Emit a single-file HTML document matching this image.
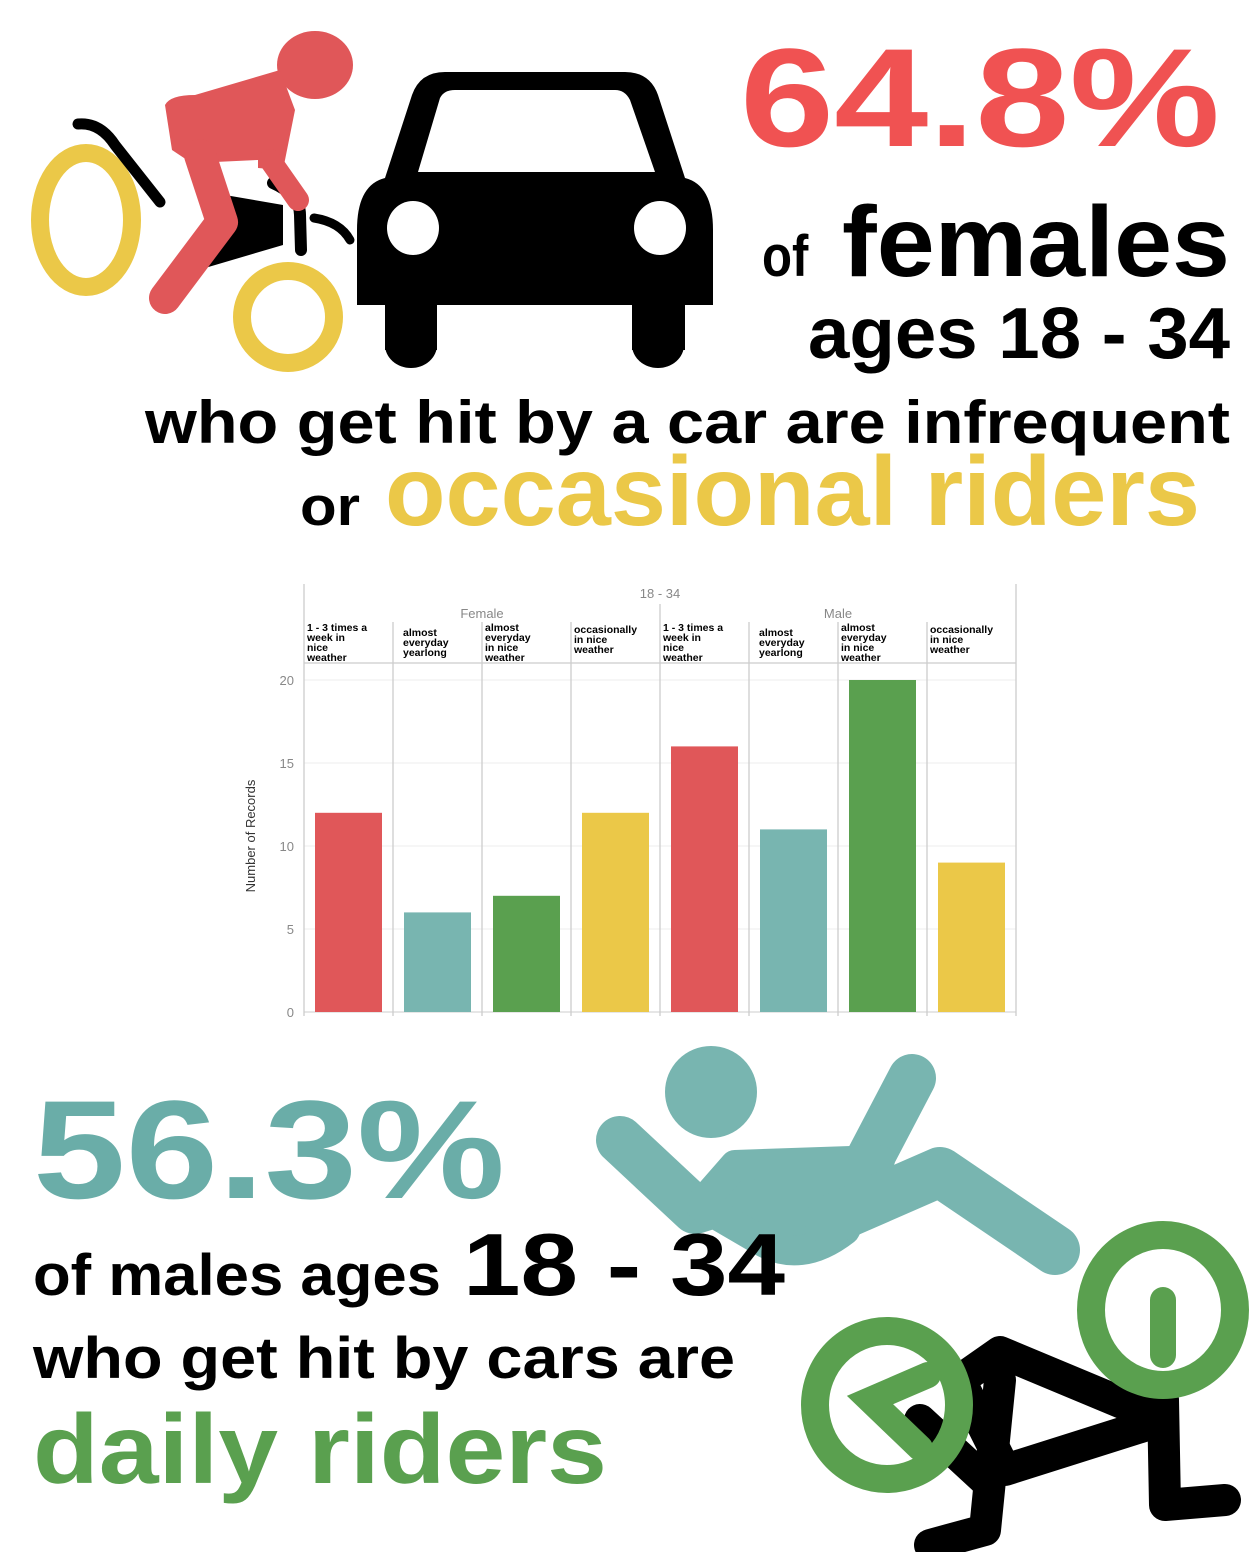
<!DOCTYPE html>
<html><head><meta charset="utf-8"><style>
html,body{margin:0;padding:0;background:#fff;}
body{width:1250px;height:1552px;position:relative;overflow:hidden;font-family:"Liberation Sans",sans-serif;}
svg{position:absolute;left:0;top:0;}
</style></head><body>
<svg width="1250" height="1552" viewBox="0 0 1250 1552">
<g fill="#000">
  <path d="M385,178 L412,95 Q420,72 445,72 L625,72 Q650,72 658,95 L685,178 Q713,185 713,230 L713,305 L357,305 L357,230 Q357,185 385,178Z"/>
  <rect x="385" y="290" width="52" height="60"/><ellipse cx="411" cy="345" rx="26" ry="23"/>
  <rect x="632" y="290" width="53" height="60"/><ellipse cx="658" cy="345" rx="26" ry="23"/>
  <path d="M418,172 L440,98 Q444,90 455,90 L615,90 Q625,90 630,100 L655,172Z" fill="#fff"/>
  <ellipse cx="413" cy="228" rx="26" ry="27" fill="#fff"/>
  <ellipse cx="660" cy="228" rx="26" ry="27" fill="#fff"/>
</g>
<g fill="none" stroke="#ebc848" stroke-width="18">
  <ellipse cx="86" cy="220" rx="46" ry="67"/>
  <ellipse cx="288" cy="317" rx="46" ry="46"/>
</g>
<g>
  <path d="M78,124 Q100,122 115,145 L160,202" stroke="#000" stroke-width="11" fill="none" stroke-linecap="round"/>
  <path d="M225,195 L283,205 L283,245 L205,268 Q192,272 188,268Z" fill="#000"/>
  <path d="M273,183 Q300,195 300,215 L301,250" stroke="#000" stroke-width="12" fill="none" stroke-linecap="round"/>
  <path d="M314,218 Q340,222 350,240" stroke="#000" stroke-width="9" fill="none" stroke-linecap="round"/>
</g>
<g fill="#e05759" stroke="#e05759" stroke-linecap="round" stroke-linejoin="round">
  <ellipse cx="315" cy="65" rx="38" ry="34" stroke="none"/>
  <path d="M165,105 Q170,95 195,95 L280,70 L295,110 L283,170 L258,168 L258,160 L215,162 L190,162 L172,150 Z" stroke="none"/>
  <path d="M200,155 L222,222 L165,298" stroke-width="32" fill="none"/>
  <path d="M270,160 L298,200" stroke-width="22" fill="none"/>
</g>
<g font-family="Liberation Sans, sans-serif" font-weight="bold">
  <text x="740" y="146" font-size="140" fill="#f05252" textLength="480" lengthAdjust="spacingAndGlyphs">64.8%</text>
  <text x="762" y="276" font-size="100" fill="#000"><tspan font-size="58" textLength="60" lengthAdjust="spacingAndGlyphs">of </tspan><tspan x="842" textLength="388" lengthAdjust="spacingAndGlyphs">females</tspan></text>
  <text x="808" y="358" font-size="72" fill="#000" textLength="422" lengthAdjust="spacingAndGlyphs">ages 18 - 34</text>
  <text x="145" y="443" font-size="60" fill="#000" textLength="1085" lengthAdjust="spacingAndGlyphs">who get hit by a car are infrequent</text>
  <text x="300" y="525" font-size="55" fill="#000" textLength="60" lengthAdjust="spacingAndGlyphs">or</text>
  <text x="385" y="525" font-size="98" fill="#ebc848" textLength="815" lengthAdjust="spacingAndGlyphs">occasional riders</text>
</g>
<g id="chart"></g>
<g fill="#78b5b0" stroke="#78b5b0" stroke-linecap="round" stroke-linejoin="round">
  <ellipse cx="711" cy="1092" rx="46" ry="46" stroke="none"/>
  <path d="M620,1140 L695,1210 L790,1180" stroke-width="48" fill="none"/>
  <path d="M912,1078 L868,1162" stroke-width="48" fill="none"/>
  <path d="M735,1165 L880,1160 L845,1230 Q800,1265 760,1240 L700,1205 Z" stroke-width="30"/>
  <path d="M830,1220 L940,1172 L1055,1250" stroke-width="50" fill="none"/>
</g>
<g stroke="#000" stroke-width="32" stroke-linecap="round" stroke-linejoin="round" fill="none">
  <path d="M960,1380 L1000,1352 L1163,1420 L1005,1470 Z"/>
  <path d="M1000,1380 L985,1530 L930,1545"/>
  <path d="M1163,1400 L1165,1505 L1225,1500"/>
  <path d="M920,1420 L985,1480"/>
</g>
<g fill="none" stroke="#5aa04f" stroke-width="28">
  <ellipse cx="887" cy="1405" rx="72" ry="74"/>
  <ellipse cx="1163" cy="1310" rx="72" ry="75"/>
  <path d="M928,1375 L870,1400 L920,1448" stroke-width="26" stroke-linecap="round"/>
  <path d="M1163,1300 L1163,1355" stroke-width="26" stroke-linecap="round"/>
</g>
<g font-family="Liberation Sans, sans-serif" font-weight="bold">
  <text x="33" y="1198" font-size="140" fill="#6aada8" textLength="472" lengthAdjust="spacingAndGlyphs">56.3%</text>
  <text x="33" y="1295" font-size="58" fill="#000" textLength="408" lengthAdjust="spacingAndGlyphs">of males ages</text>
  <text x="463" y="1295" font-size="88" fill="#000" textLength="322" lengthAdjust="spacingAndGlyphs">18 - 34</text>
  <text x="33" y="1378" font-size="58" fill="#000" textLength="702" lengthAdjust="spacingAndGlyphs">who get hit by cars are</text>
  <text x="33" y="1483" font-size="98" fill="#5aa04f" textLength="574" lengthAdjust="spacingAndGlyphs">daily riders</text>
</g>
</svg>
<script>
const categories = ["1 - 3 times a|week in|nice|weather","almost|everyday|yearlong","almost|everyday|in nice|weather","occasionally|in nice|weather"];
const groups = ["Female","Male"];
const femaleValues = [12,6,7,12];
const maleValues = [16,11,20,9];
const yTicks = [0,5,10,15,20];
const colors = ["#e05759","#78b5b0","#5aa04f","#ebc848"];
const NS = "http://www.w3.org/2000/svg";
const g = document.getElementById('chart');
const L=304, R=1016, Y0=1012, Y20=680, HT=663, TOP=584;
const colW=(R-L)/8;
function y(v){return Y0-(v/20)*(Y0-Y20);}
function x(i){return L+i*colW;}
function mk(t,a,p){const e=document.createElementNS(NS,t);for(const k in a)e.setAttribute(k,a[k]);(p||g).appendChild(e);return e;}
yTicks.forEach(t=>{
  const l=mk('line',{x1:L,x2:R,y1:y(t),y2:y(t),stroke:t===0?'#ccc':'#eee','stroke-width':1});
  
  
  const tx=mk('text',{x:294,y:y(t)+5,'text-anchor':'end','font-size':13,fill:'#888','font-family':'Liberation Sans, sans-serif'});
  tx.textContent=t;
  
  
});
for(let i=0;i<=8;i++){
  const top=(i===0||i===8)?TOP:(i===4?604:622);
  const l=mk('line',{x1:x(i),x2:x(i),y1:top,y2:1016,stroke:'#ccc','stroke-width':1.3});
  
  
}
const hl=mk('line',{x1:L,x2:R,y1:HT,y2:HT,stroke:'#ccc','stroke-width':1.3});


const t1=mk('text',{x:(L+R)/2,y:598,'text-anchor':'middle','font-size':13,fill:'#888','font-family':'Liberation Sans, sans-serif'});
t1.textContent='18 - 34';


groups.forEach((gname,gi)=>{
  const t=mk('text',{x:x(gi*4+2),y:618,'text-anchor':'middle','font-size':13,fill:'#888','font-family':'Liberation Sans, sans-serif'});
  t.textContent=gname;
  
  
  const vals=gi===0?femaleValues:maleValues;
  categories.forEach((c,ci)=>{
    const i=gi*4+ci;
    const lines=c.split('|');
    const startY=lines.length===4?631:(lines.length===3&&ci===1?636:633);
    lines.forEach((ln,li)=>{
      const tt=mk('text',{x:x(i)+3+(ci===1?7:0),y:startY+li*10,'font-size':10.5,'font-weight':'bold',fill:'#000','font-family':'Liberation Sans, sans-serif'});
      tt.textContent=ln;
      
      
    });
    const b=mk('rect',{x:x(i)+11,y:y(vals[ci]),width:67,height:Y0-y(vals[ci]),fill:colors[ci]});
    
    
  });
});
const yl=mk('text',{x:0,y:0,transform:'translate(255,836) rotate(-90)','text-anchor':'middle','font-size':13,fill:'#333','font-family':'Liberation Sans, sans-serif'});
yl.textContent='Number of Records';


</script>
</body></html>
